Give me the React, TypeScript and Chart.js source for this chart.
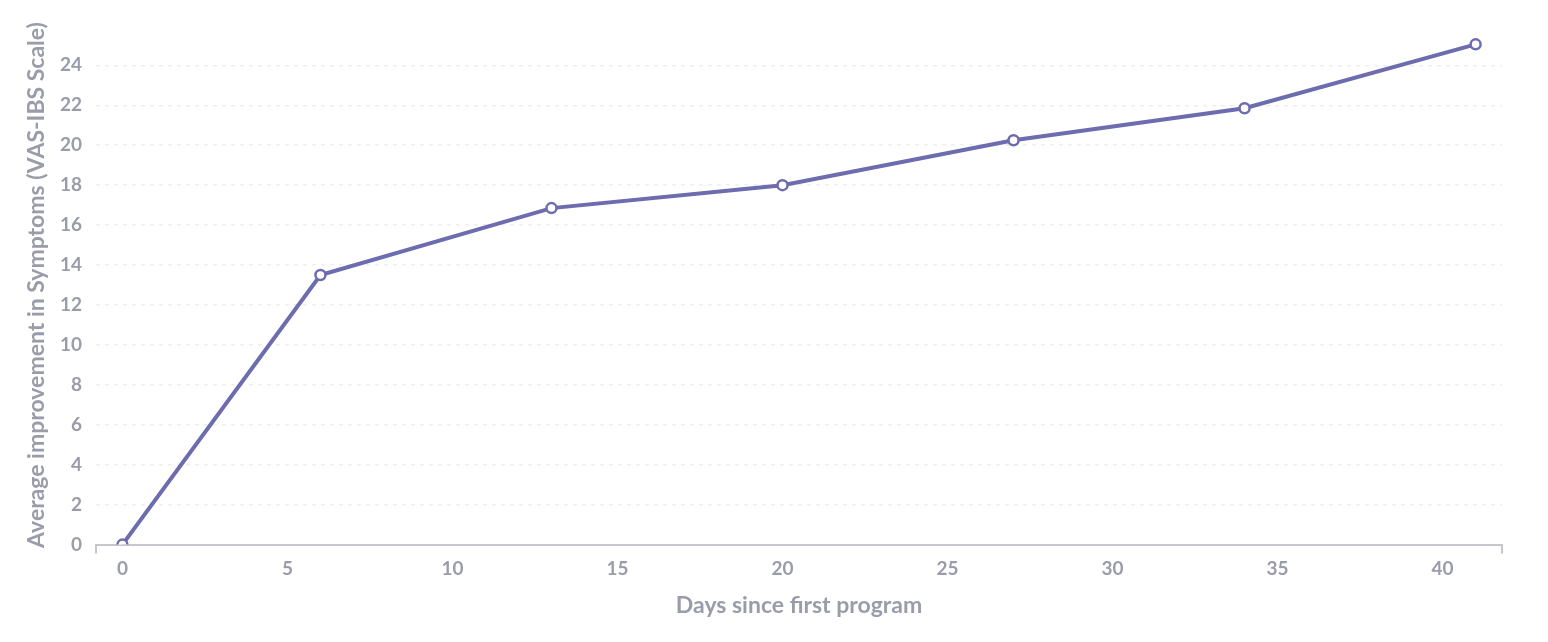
import { useEffect, useRef } from "react";
import { Chart, registerables, type ChartItem } from "chart.js";

Chart.register(...registerables);

// days since first program, and average improvement (VAS-IBS)
const DAYS = [0, 6, 13, 20, 27, 34, 41];
const IMPROVEMENT = [0, 13.5, 16.85, 18.0, 20.25, 21.85, 25.05];
const X_TICKS = [0, 5, 10, 15, 20, 25, 30, 35, 40];
const Y_TICKS = [0, 2, 4, 6, 8, 10, 12, 14, 16, 18, 20, 22, 24];

const X_MIN = -0.8;
const X_MAX = 41.8;
const LINE = "#6c6cae";
const TEXT = "#9b9caa";
const FONT = "Lato, 'Noto Sans', sans-serif";

export default function App() {
  const canvasRef = useRef<HTMLCanvasElement>(null);
  const chartRef = useRef<Chart | null>(null);

  useEffect(() => {
    document.body.style.margin = "0";
    if (!canvasRef.current) return;
    const ctx = canvasRef.current.getContext("2d") as ChartItem;
    chartRef.current = new Chart(ctx, {
      type: "line",
      data: {
        datasets: [
          {
            data: DAYS.map((d, i) => ({ x: d, y: IMPROVEMENT[i] })),
            borderColor: LINE,
            borderWidth: 4,
            pointRadius: 5,
            pointBorderWidth: 2.5,
            pointBackgroundColor: "#ffffff",
            pointBorderColor: LINE,
            tension: 0,
          },
        ],
      },
      options: {
        animation: false,
        responsive: false,
        layout: { padding: { top: 24, right: 46, bottom: 23, left: 25 } },
        plugins: { legend: { display: false }, tooltip: { enabled: false } },
        scales: {
          x: {
            type: "linear",
            min: X_MIN,
            max: X_MAX,
            afterBuildTicks: (axis) => {
              axis.ticks = [X_MIN, ...X_TICKS, X_MAX].map((v) => ({ value: v }));
            },
            ticks: {
              color: TEXT,
              font: { family: FONT, size: 19, weight: "bold" },
              padding: 4,
              maxRotation: 0,
              autoSkip: false,
              callback: (v) => (X_TICKS.includes(Number(v)) ? String(v) : ""),
            },
            grid: {
              drawOnChartArea: false,
              tickLength: 9,
              lineWidth: 2,
              color: (c) =>
                c.tick && (c.tick.value === X_MIN || c.tick.value === X_MAX)
                  ? "#c6c6cc"
                  : "rgba(0,0,0,0)",
            },
            border: { display: true, color: "#c6c6cc", width: 2 },
            title: {
              display: true,
              text: "Days since first program",
              color: TEXT,
              font: { family: FONT, size: 23, weight: "bold" },
              padding: { top: 7, bottom: 0 },
            },
          },
          y: {
            type: "linear",
            min: 0,
            max: 26,
            afterBuildTicks: (axis) => {
              axis.ticks = Y_TICKS.map((v) => ({ value: v }));
            },
            ticks: {
              color: TEXT,
              font: { family: FONT, size: 19, weight: "bold" },
              padding: 14,
            },
            grid: {
              drawTicks: false,
              lineWidth: 1.5,
              color: (c) =>
                c.tick && c.tick.value === 0 ? "rgba(0,0,0,0)" : "#efeff2",
            },
            border: { display: false, dash: [4, 5] },
            title: {
              display: true,
              text: "Average improvement in Symptoms (VAS-IBS Scale)",
              color: TEXT,
              font: { family: FONT, size: 23, weight: "bold", lineHeight: 1 },
              padding: { top: 0, bottom: -2 },
            },
          },
        },
      },
    });
    return () => {
      chartRef.current?.destroy();
      chartRef.current = null;
    };
  }, []);

  return (
    <div style={{ width: 1548, height: 642, background: "#ffffff" }}>
      <canvas ref={canvasRef} width={1548} height={642} />
    </div>
  );
}
